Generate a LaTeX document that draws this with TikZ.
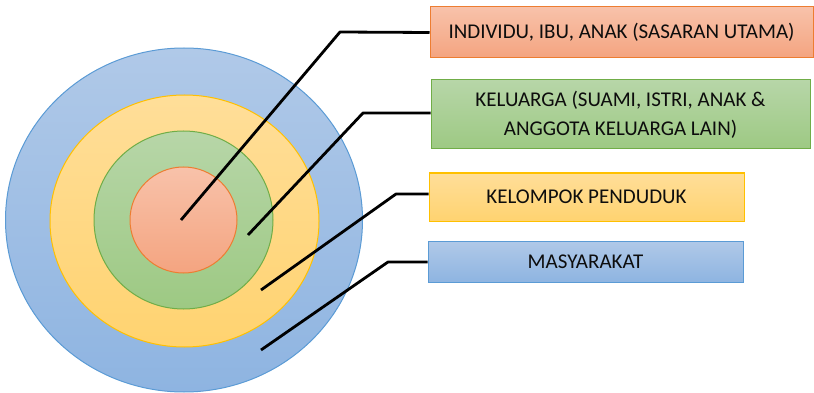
\documentclass[tikz,border=0pt]{standalone}
\usepackage{fontspec}
\setmainfont{Carlito}
\usetikzlibrary{shapes.geometric}
\definecolor{orline}{RGB}{237,125,49}
\definecolor{ortop}{RGB}{248,194,170}
\definecolor{orbot}{RGB}{244,164,128}
\definecolor{grline}{RGB}{112,173,71}
\definecolor{grtop}{RGB}{183,214,168}
\definecolor{grbot}{RGB}{157,201,131}
\definecolor{yeline}{RGB}{255,192,0}
\definecolor{yetop}{RGB}{255,222,153}
\definecolor{yebot}{RGB}{255,211,112}
\definecolor{blline}{RGB}{91,155,213}
\definecolor{bltop}{RGB}{176,201,232}
\definecolor{blbot}{RGB}{142,180,225}
\tikzset{
  ring/.style={ellipse,inner sep=0pt,line width=1pt},
  labelbox/.style={rectangle,inner sep=0pt,line width=1pt,align=center,
    font=\fontsize{21}{29}\selectfont,text=black!95},
  leader/.style={line width=2.8pt,black,line join=round}
}
\begin{document}
\begin{tikzpicture}[x=1pt,y=-1pt]
    \useasboundingbox (0,0) rectangle (814,393);
    % rings
    \node[ring,draw=blline,top color=bltop,bottom color=blbot,minimum width=357,minimum height=344](masy) at (184,220){};
    \node[ring,draw=yeline,top color=yetop,bottom color=yebot,minimum width=269,minimum height=252](kelo) at (184.5,221){};
    \node[ring,draw=grline,top color=grtop,bottom color=grbot,minimum width=179,minimum height=178](kelu) at (183.5,220){};
    \node[ring,draw=orline,top color=ortop,bottom color=orbot,minimum width=107,minimum height=106](indi) at (183.5,220){};
    % boxes
    \node[labelbox,draw=orline,top color=ortop,bottom color=orbot,minimum width=383,minimum height=51](bindi) at (621.5,32.5){INDIVIDU, IBU, ANAK (SASARAN UTAMA)};
    \node[labelbox,draw=grline,top color=grtop,bottom color=grbot,minimum width=379,minimum height=69](bkelu) at (620.5,114.5){KELUARGA (SUAMI, ISTRI, ANAK \&\\ANGGOTA KELUARGA LAIN)};
    \node[labelbox,draw=yeline,top color=yetop,bottom color=yebot,minimum width=315,minimum height=48](bkelo) at (586.5,197){KELOMPOK PENDUDUK};
    \node[labelbox,draw=blline,top color=bltop,bottom color=blbot,minimum width=315,minimum height=41](bmasy) at (585.5,261.5){MASYARAKAT};
    % leader lines
    \coordinate (p1) at (181,220);
    \coordinate (p2) at (248,235);
    \coordinate (p3) at (261,290);
    \coordinate (p4) at (261,350);
    \draw[leader](p1)--(340,32)--(bindi.west);
    \draw[leader](p2)--(363,113)--(bkelu.west|-0,113);
    \draw[leader](p3)--(396,194)--(bkelo.west|-0,194);
    \draw[leader](p4)--(388,262)--(bmasy.west|-0,262);
\end{tikzpicture}
\end{document}
